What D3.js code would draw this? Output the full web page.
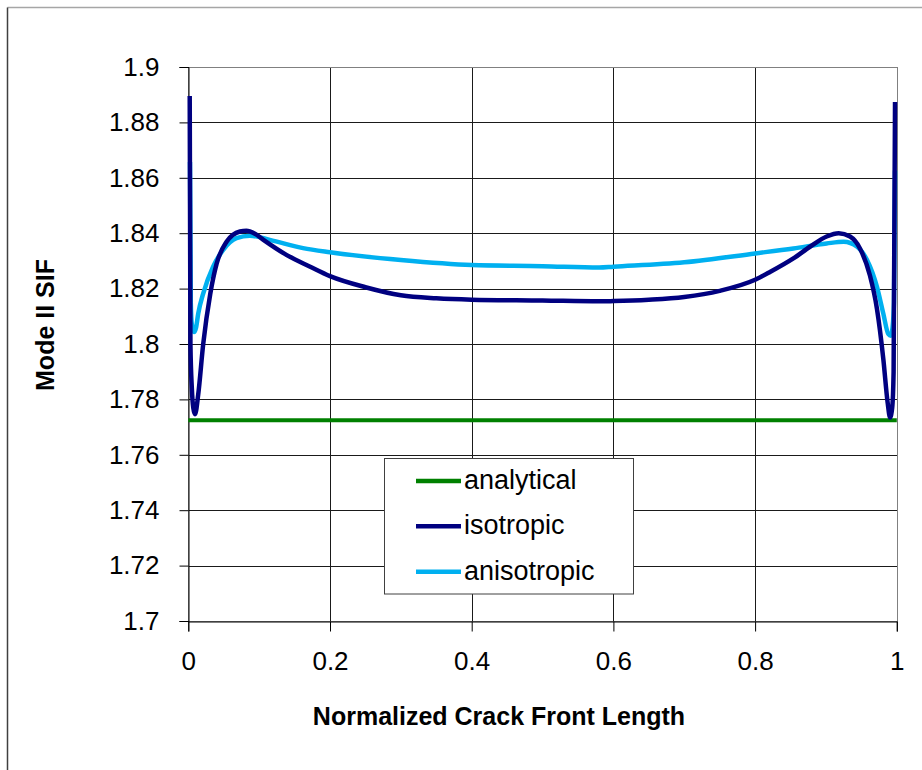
<!DOCTYPE html>
<html><head><meta charset="utf-8">
<script src="https://cdn.jsdelivr.net/npm/d3@7"></script>
<style>html,body{margin:0;padding:0;background:#fff;}svg{display:block;}</style>
</head><body>
<script>
// ---- data ----
const seriesNames = ["analytical", "isotropic", "anisotropic"];
const seriesColors = ["#008000", "#000080", "#00B0F0"];
const yTickLabels = ["1.7","1.72","1.74","1.76","1.78","1.8","1.82","1.84","1.86","1.88","1.9"];
const xTickLabels = ["0","0.2","0.4","0.6","0.8","1"];

const analyticalX = [0, 1];
const analyticalY = [1.7725, 1.7725];

const isoX = [0.002,0.003,0.005,0.007,0.0095,0.014,0.021,0.031,0.04,0.054,0.073,0.082,0.094,0.106,0.139,0.172,0.2,0.25,0.3,0.35,0.4,0.5,0.58,0.6,0.65,0.7,0.75,0.8,0.821,0.854,0.878,0.901,0.918,0.934,0.948,0.962,0.972,0.981,0.987,0.9905,0.9935,0.9955,0.9975];
const isoY = [1.8895,1.80,1.784,1.777,1.7746,1.7818,1.7999,1.8181,1.829,1.8369,1.8406,1.8409,1.8398,1.8376,1.8321,1.8279,1.8245,1.8205,1.8176,1.8165,1.816,1.8157,1.8154,1.8155,1.816,1.817,1.8192,1.8232,1.826,1.8309,1.8352,1.8388,1.84,1.8388,1.8345,1.8248,1.8127,1.7945,1.779,1.7735,1.777,1.79,1.8874];

const anisoX = [0.0024,0.0035,0.005,0.008,0.011,0.014,0.021,0.035,0.049,0.068,0.087,0.115,0.162,0.2,0.3,0.4,0.5,0.58,0.6,0.7,0.8,0.854,0.901,0.925,0.944,0.958,0.972,0.981,0.988,0.9915,0.994,0.996,0.9975];
const anisoY = [1.8657,1.815,1.807,1.8043,1.806,1.811,1.8182,1.8279,1.8339,1.8382,1.8391,1.8376,1.8346,1.8331,1.8303,1.8285,1.8281,1.8276,1.8279,1.8295,1.8327,1.8345,1.8363,1.8369,1.8351,1.8303,1.8206,1.8109,1.8036,1.803,1.806,1.815,1.8626];

// ---- layout ----
const W = 922, H = 770;
const L = 188.3, R = 896.8, T = 67, B = 621;
const svg = d3.select("body").append("svg").attr("width", W).attr("height", H);
svg.append("rect").attr("width", W).attr("height", H).attr("fill", "#fff");
// outer chart border
svg.append("line").attr("x1",7.5).attr("x2",W).attr("y1",7.5).attr("y2",7.5).attr("stroke","#a6a6a6").attr("stroke-width",1.5);
svg.append("line").attr("x1",7.5).attr("x2",7.5).attr("y1",7.5).attr("y2",H).attr("stroke","#404040").attr("stroke-width",1.5);

const x = d3.scaleLinear().domain([0,1]).range([L,R]);
const y = d3.scaleLinear().domain([1.7,1.9]).range([B,T]);
const yTicks = yTickLabels.map(Number);
const xTicks = xTickLabels.map(Number);
const font = "'Liberation Sans', Arial, sans-serif";

// gridlines
const g = svg.append("g").attr("shape-rendering","crispEdges");
g.selectAll("line.h").data(yTicks).join("line")
  .attr("x1",L).attr("x2",R).attr("y1",d=>Math.round(y(d))+0.5).attr("y2",d=>Math.round(y(d))+0.5)
  .attr("stroke","#1a1a1a").attr("stroke-width",1);
g.selectAll("line.v").data(xTicks).join("line")
  .attr("y1",T).attr("y2",B).attr("x1",d=>Math.round(x(d))+0.5).attr("x2",d=>Math.round(x(d))+0.5)
  .attr("stroke","#1a1a1a").attr("stroke-width",1);
// plot border
g.append("rect").attr("x",Math.round(L)+0.5).attr("y",T+0.5).attr("width",Math.round(R)-Math.round(L)).attr("height",B-T)
  .attr("fill","none").attr("stroke","#808080");

// axes
const yAxis = d3.axisLeft(y).tickValues(yTicks).tickFormat((d,i)=>yTickLabels[i]).tickSize(9).tickPadding(20);
const ya = svg.append("g").attr("transform",`translate(${Math.round(L)+0.5},0)`).call(yAxis);
const xAxis = d3.axisBottom(x).tickValues(xTicks).tickFormat((d,i)=>xTickLabels[i]).tickSize(10).tickPadding(20);
const xa = svg.append("g").attr("transform",`translate(0,${B+0.5})`).call(xAxis);
[ya, xa].forEach(a=>{
  a.select(".domain").attr("stroke","#000");
  a.selectAll(".tick line").attr("stroke","#000");
  a.selectAll("text").attr("font-family",font).attr("font-size",26).attr("fill","#000");
});
xa.selectAll("text").attr("dy","0.71em");

// series
const line = d3.line().x(d=>x(d[0])).y(d=>y(d[1])).curve(d3.curveMonotoneX);
const seriesData = [
  d3.zip(analyticalX, analyticalY),
  d3.zip(isoX, isoY),
  d3.zip(anisoX, anisoY)
];
svg.append("g").selectAll("path").data([0,2,1]).join("path")
  .attr("d", i=>line(seriesData[i]))
  .attr("fill","none").attr("stroke", i=>seriesColors[i])
  .attr("stroke-width", i=> i===0 ? 4 : 4.5).attr("stroke-linejoin","round");

// legend
const lg = svg.append("g");
lg.append("rect").attr("x",384.5).attr("y",458.5).attr("width",249).attr("height",135.5)
  .attr("fill","#fff").attr("stroke","#404040").attr("stroke-width",1);
const rowsY = [481, 526.3, 571.7];
seriesNames.forEach((n,i)=>{
  lg.append("line").attr("x1",416).attr("x2",461).attr("y1",rowsY[i]).attr("y2",rowsY[i])
    .attr("stroke",seriesColors[i]).attr("stroke-width",4.5);
  lg.append("text").attr("x",464).attr("y",rowsY[i]+8).text(n)
    .attr("font-family",font).attr("font-size",27).attr("fill","#000");
});

// axis titles
svg.append("text").attr("x",499).attr("y",725).attr("text-anchor","middle")
  .attr("font-family",font).attr("font-weight","bold").attr("font-size",25).text("Normalized Crack Front Length");
svg.append("text").attr("transform","translate(54,325) rotate(-90)").attr("text-anchor","middle")
  .attr("font-family",font).attr("font-weight","bold").attr("font-size",25).text("Mode II SIF");
</script>
</body></html>
